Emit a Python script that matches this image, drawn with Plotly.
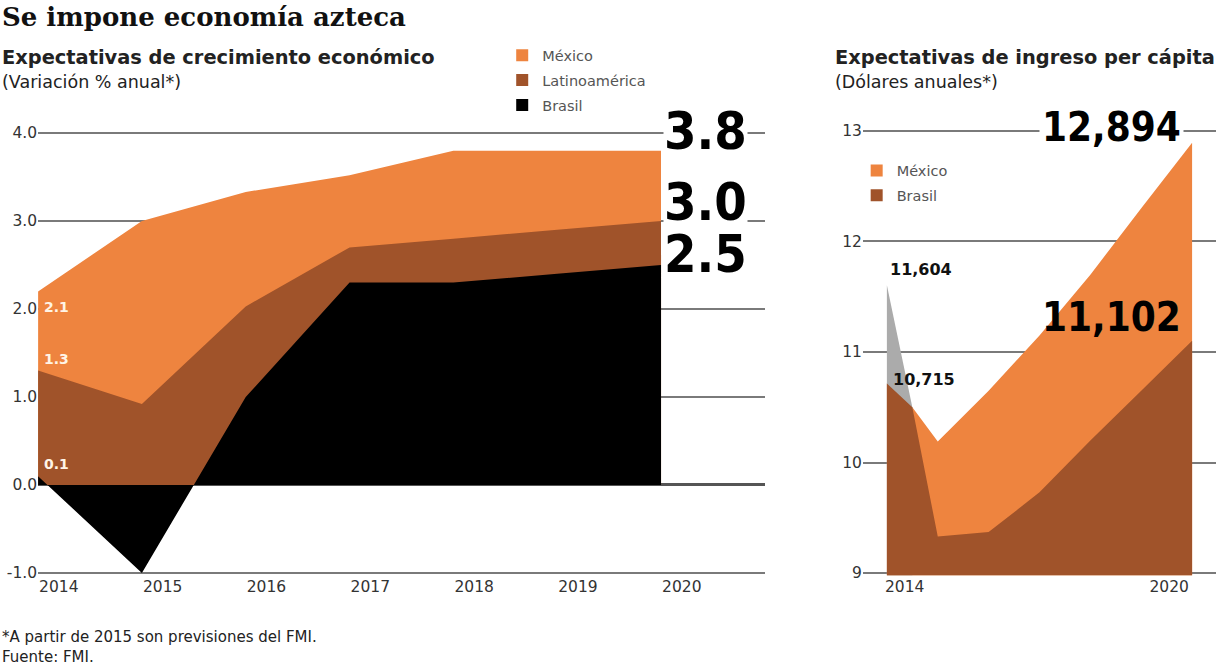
import plotly.graph_objects as go

# ---------------- data: growth expectations (left) ----------------
years = [2014, 2015, 2016, 2017, 2018, 2019, 2020]
mexico_crec = [2.2, 3.0, 3.33, 3.52, 3.8, 3.8, 3.8]
latam_crec = [1.3, 0.92, 2.03, 2.7, 2.8, 2.9, 3.0]
brasil_crec = [0.1, -1.0, 1.0, 2.3, 2.3, 2.4, 2.5]
year_labels = ["2014", "2015", "2016", "2017", "2018", "2019", "2020"]
left_start_labels = ["2.1", "1.3", "0.1"]
left_end_labels = ["3.8", "3.0", "2.5"]
left_yticks = [-1, 0, 1, 2, 3, 4]
left_yticktext = ["-1.0", "0.0", "1.0", "2.0", "3.0", "4.0"]

# ---------------- data: income per capita (right, thousands USD) ----------------
ingreso_x = [2014, 2014.5, 2015, 2016, 2017, 2018, 2019, 2020]
mexico_ingreso = [10.715, 10.5, 10.19, 10.65, 11.15, 11.7, 12.3, 12.894]
brasil_ingreso = [10.715, 10.5, 9.33, 9.37, 9.73, 10.2, 10.65, 11.102]
brasil_pico_x = [2014, 2014.5]
brasil_pico = [11.604, 10.5]
right_labels = ["12,894", "11,102", "11,604", "10,715"]
right_yticks = [9, 10, 11, 12, 13]
right_xlabels = ["2014", "2020"]

ORANGE = "#EE843F"
BROWN = "#A0532A"
BLACK = "#000000"
GREY = "#ABABAB"
GRID = "#7a7a7a"
TXT = "#333333"
SANS = "DejaVu Sans, Open Sans, sans-serif"
COND = "DejaVu Sans Condensed, Liberation Sans Narrow, sans-serif"

fig = go.Figure()

# left panel areas
fig.add_trace(go.Scatter(x=years, y=mexico_crec, fill="tozeroy", mode="none",
                         fillcolor=ORANGE, showlegend=False, hoverinfo="skip",
                         xaxis="x", yaxis="y"))
fig.add_trace(go.Scatter(x=years, y=latam_crec, fill="tozeroy", mode="none",
                         fillcolor=BROWN, showlegend=False, hoverinfo="skip",
                         xaxis="x", yaxis="y"))
fig.add_trace(go.Scatter(x=years, y=brasil_crec, fill="tozeroy", mode="none",
                         fillcolor=BLACK, showlegend=False, hoverinfo="skip",
                         xaxis="x", yaxis="y"))

# right panel areas
fig.add_trace(go.Scatter(x=ingreso_x, y=mexico_ingreso, fill="tozeroy", mode="none",
                         fillcolor=ORANGE, showlegend=False, hoverinfo="skip",
                         xaxis="x2", yaxis="y2"))
fig.add_trace(go.Scatter(x=brasil_pico_x, y=brasil_pico, fill="tozeroy", mode="none",
                         fillcolor=GREY, showlegend=False, hoverinfo="skip",
                         xaxis="x2", yaxis="y2"))
fig.add_trace(go.Scatter(x=ingreso_x, y=brasil_ingreso, fill="tozeroy", mode="none",
                         fillcolor=BROWN, showlegend=False, hoverinfo="skip",
                         xaxis="x2", yaxis="y2"))

# legend entries
for name, col in [("México", ORANGE), ("Latinoamérica", BROWN), ("Brasil", BLACK)]:
    fig.add_trace(go.Scatter(x=[None], y=[None], mode="markers", name=name,
                             marker=dict(symbol="square", size=12, color=col),
                             legend="legend", legendgroup="l" + name,
                             xaxis="x", yaxis="y"))
for name, col in [("México", ORANGE), ("Brasil", BROWN)]:
    fig.add_trace(go.Scatter(x=[None], y=[None], mode="markers", name=name,
                             marker=dict(symbol="square", size=12, color=col),
                             legend="legend2", legendgroup="r" + name,
                             xaxis="x2", yaxis="y2"))

fig.update_layout(
    width=1216, height=666,
    margin=dict(l=0, r=0, t=0, b=0, autoexpand=False),
    paper_bgcolor="white", plot_bgcolor="white",
    font=dict(family=SANS, color=TXT, size=15),
    xaxis=dict(domain=[0.0313, 0.629], range=[2014, 2021], showgrid=False,
               zeroline=False, tickmode="array",
               tickvals=[y + 0.2 for y in years], ticktext=year_labels,
               ticks="", tickfont=dict(size=15.5, color=TXT), fixedrange=True,
               automargin=False),
    yaxis=dict(domain=[0.1357, 0.8042], range=[-1.03, 4.03], tickmode="array",
               tickvals=left_yticks, ticktext=left_yticktext,
               showgrid=True, gridcolor=GRID, gridwidth=2,
               zeroline=True, zerolinecolor="#555555", zerolinewidth=3,
               ticks="", tickfont=dict(size=15.5, color=TXT), fixedrange=True,
               automargin=False),
    xaxis2=dict(domain=[0.7097, 1.0], range=[2013.53, 2020.47], anchor="y2",
                showgrid=False, zeroline=False, tickmode="array",
                tickvals=[2014.35, 2019.55], ticktext=right_xlabels, ticks="",
                tickfont=dict(size=15.5, color=TXT), fixedrange=True, automargin=False),
    yaxis2=dict(domain=[0.1363, 0.8083], range=[8.98, 13.03], anchor="x2", tickmode="array",
                tickvals=right_yticks, showgrid=True, gridcolor=GRID, gridwidth=2,
                zeroline=False, ticks="", tickfont=dict(size=15.5, color=TXT),
                fixedrange=True, automargin=False),
    legend=dict(x=0.413, y=0.941, xanchor="left", yanchor="top",
                bgcolor="rgba(0,0,0,0)", font=dict(size=14.5, color="#555555"),
                tracegroupgap=3, itemclick=False),
    legend2=dict(x=0.7045, y=0.768, xanchor="left", yanchor="top",
                 bgcolor="rgba(0,0,0,0)", font=dict(size=14.5, color="#555555"),
                 tracegroupgap=3, itemclick=False),
)

ann = []
# titles
ann.append(dict(text="<b>Se impone economía azteca</b>", x=0.0, y=1.0,
                xref="paper", yref="paper", xanchor="left", yanchor="top",
                showarrow=False, font=dict(family="DejaVu Serif, serif", size=26, color="#111")))
ann.append(dict(text="<b>Expectativas de crecimiento económico</b>", x=0.0, y=1 - 57 / 666,
                xref="paper", yref="paper", xanchor="left", yanchor="middle",
                showarrow=False, font=dict(family=SANS, size=19.4, color="#222")))
ann.append(dict(text="(Variación % anual*)", x=0.0, y=1 - 82 / 666,
                xref="paper", yref="paper", xanchor="left", yanchor="middle",
                showarrow=False, font=dict(family=SANS, size=17.5, color="#222")))
ann.append(dict(text="<b>Expectativas de ingreso per cápita</b>", x=0.685, y=1 - 57 / 666,
                xref="paper", yref="paper", xanchor="left", yanchor="middle",
                showarrow=False, font=dict(family=SANS, size=19.4, color="#222")))
ann.append(dict(text="(Dólares anuales*)", x=0.685, y=1 - 82 / 666,
                xref="paper", yref="paper", xanchor="left", yanchor="middle",
                showarrow=False, font=dict(family=SANS, size=17.5, color="#222")))
# footnotes
ann.append(dict(text="*A partir de 2015 son previsiones del FMI.", x=0.0, y=1 - 637 / 666,
                xref="paper", yref="paper", xanchor="left", yanchor="middle",
                showarrow=False, font=dict(family=SANS, size=15, color="#222")))
ann.append(dict(text="Fuente: FMI.", x=0.0, y=1 - 657 / 666,
                xref="paper", yref="paper", xanchor="left", yanchor="middle",
                showarrow=False, font=dict(family=SANS, size=15, color="#222")))

# left start labels
starts = [mexico_crec[0], latam_crec[0], brasil_crec[0]]
shifts = [-16, 12, 12]
for lab, v, s in zip(left_start_labels, starts, shifts):
    ann.append(dict(text="<b>" + lab + "</b>", x=years[0], y=v, xref="x", yref="y",
                    xanchor="left", yanchor="middle", xshift=4, yshift=s,
                    showarrow=False, font=dict(family=SANS, size=14, color="#FFF4E6")))

# left end labels
ends = [mexico_crec[-1], latam_crec[-1], brasil_crec[-1]]
eshifts = [20, 19, 11]
for lab, v, s in zip(left_end_labels, ends, eshifts):
    ann.append(dict(text="<b>" + lab + "</b>", x=years[-1], y=v, xref="x", yref="y",
                    xanchor="left", yanchor="middle", xshift=2, yshift=s,
                    bgcolor="white", borderpad=0, showarrow=False,
                    font=dict(family=COND, size=52, color="#000")))

# right labels
ann.append(dict(text="<b>" + right_labels[0] + "</b>", x=ingreso_x[-1], y=mexico_ingreso[-1],
                xref="x2", yref="y2", xanchor="right", yanchor="middle", xshift=-8, yshift=16,
                bgcolor="white", borderpad=2, showarrow=False,
                font=dict(family=COND, size=40, color="#000")))
ann.append(dict(text="<b>" + right_labels[1] + "</b>", x=ingreso_x[-1], y=brasil_ingreso[-1],
                xref="x2", yref="y2", xanchor="right", yanchor="middle", xshift=-9, yshift=24,
                showarrow=False, font=dict(family=COND, size=40, color="#000")))
ann.append(dict(text="<b>" + right_labels[2] + "</b>", x=brasil_pico_x[0], y=brasil_pico[0],
                xref="x2", yref="y2", xanchor="left", yanchor="middle", xshift=1, yshift=16,
                showarrow=False, font=dict(family=SANS, size=16, color="#111")))
ann.append(dict(text="<b>" + right_labels[3] + "</b>", x=ingreso_x[0], y=mexico_ingreso[0],
                xref="x2", yref="y2", xanchor="left", yanchor="middle", xshift=4, yshift=4,
                showarrow=False, font=dict(family=SANS, size=16, color="#111")))

fig.update_layout(annotations=ann)
fig.write_html("out.html", config={"displayModeBar": False},
               post_script="document.body.style.margin='0px';")
